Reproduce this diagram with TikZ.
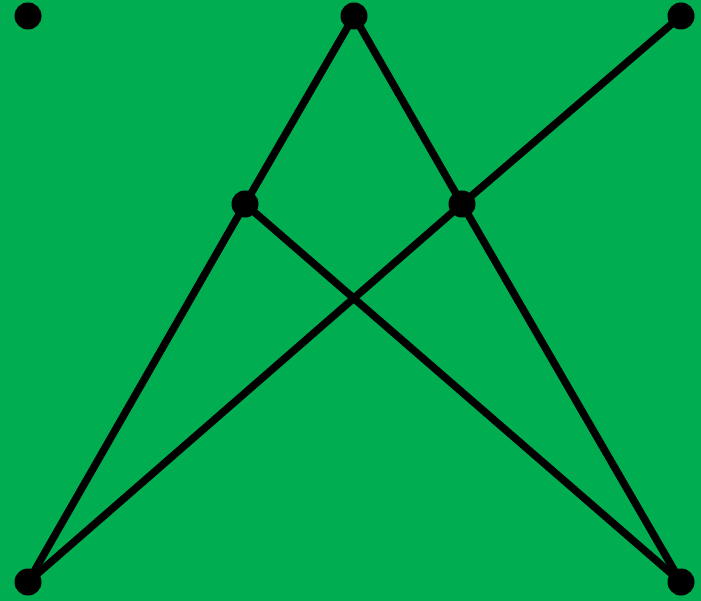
\documentclass[tikz,border=0pt]{standalone}
\definecolor{bggreen}{RGB}{0,173,80}
\begin{document}
\begin{tikzpicture}[x=1pt,y=-1pt,
  vtx/.style={circle,fill=black,inner sep=0pt,minimum size=27pt},
  edge/.style={line width=7.5pt,black}]
\fill[bggreen] (0,0) rectangle (701,601);
\useasboundingbox (0,0) rectangle (701,601);
\node[vtx] (tl) at (28,16) {};
\node[vtx] (tm) at (354,16) {};
\node[vtx] (tr) at (681,16) {};
\node[vtx] (ml) at (245,204) {};
\node[vtx] (mr) at (462,204) {};
\node[vtx] (bl) at (28,582) {};
\node[vtx] (br) at (681,582) {};
\draw[edge] (tm.center) -- (ml.center);
\draw[edge] (tm.center) -- (mr.center);
\draw[edge] (tr.center) -- (mr.center);
\draw[edge] (ml.center) -- (bl.center);
\draw[edge] (ml.center) -- (br.center);
\draw[edge] (mr.center) -- (bl.center);
\draw[edge] (mr.center) -- (br.center);
\end{tikzpicture}
\end{document}
